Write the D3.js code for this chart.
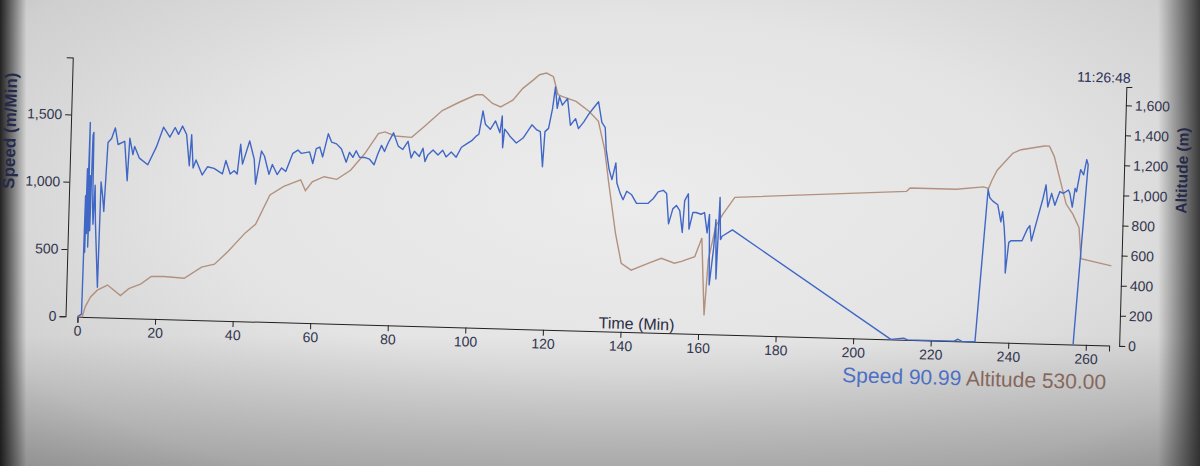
<!DOCTYPE html>
<html lang="en">
<head>
  <meta charset="UTF-8">
  <title>Speed and Altitude</title>
  <style>
    html, body {
      margin: 0;
      padding: 0;
      width: 1200px;
      height: 466px;
      overflow: hidden;
    }
    body {
      background:
        linear-gradient(to right, rgba(15,15,15,0.9) 0%, rgba(0,0,0,0) 2.2%, rgba(0,0,0,0) 96.5%, rgba(30,30,30,0.85) 100%),
        linear-gradient(to bottom, rgba(0,0,0,0) 72%, rgba(70,70,70,0.3) 100%),
        radial-gradient(ellipse 78% 85% at 52% 42%, #ececec 0%, #e4e4e4 45%, #cfcfcf 78%, #a8a8a8 100%);
      font-family: "Liberation Sans", Arial, sans-serif;
    }
    .axis path, .axis line { stroke: #222; }
    .axis text { fill: #33364f; font-size: 14px; font-family: "Liberation Sans", Arial, sans-serif; }
  </style>
</head>
<body>
  <svg id="chart" width="1200" height="466"></svg>

  <script src="https://d3js.org/d3.v7.min.js"></script>
  <script>
    // tick labels
    const timeTicks = [0, 20, 40, 60, 80, 100, 120, 140, 160, 180, 200, 220, 240, 260];
    const speedTicks = [0, 500, 1000, 1500];
    const altTicks = [0, 200, 400, 600, 800, 1000, 1200, 1400, 1600];

    // speed (m/min) against time (min)
    const speedTime = [0, 1.0, 1.2, 1.35, 1.5, 1.7, 1.9, 2.1, 2.3, 2.5, 2.7, 2.9, 3.1, 3.3, 3.6, 3.9, 4.1, 4.5, 4.9, 5.1,
      5.6, 6.0, 6.6, 7.5, 8.4, 9.2, 10.9, 11.8, 12.2, 13.1, 13.5, 14.8, 17.0, 19.1, 20.8, 22.5, 23.8, 24.7, 25.7, 26.8,
      27.7, 28.1, 28.7, 29.4, 31.1, 32.4, 34.1, 36.3, 37.1, 38.3, 39.3, 40.1, 40.8, 41.4, 43.1, 44.4, 44.9, 46.2, 47.0, 48.3,
      49.1, 50.4, 51.5, 52.6, 54.3, 55.6, 56.5, 58.6, 59.5, 60.3, 61.2, 62.0, 63.3, 64.2, 65.5, 66.8, 68.1, 68.9, 69.8, 70.6,
      71.5, 72.8, 74.1, 75.3, 76.2, 77.1, 77.9, 78.8, 80.1, 81.4, 82.6, 83.9, 84.8, 85.6, 86.9, 87.8, 88.4, 89.1, 90.4, 91.7,
      92.9, 93.8, 95.1, 96.4, 97.7, 99.0, 100.3, 101.5, 102.1, 103.0, 103.7, 105.0, 106.3, 107.5, 108.0, 108.3, 108.7, 109.5, 110.1, 111.8,
      113.5, 115.7, 117.0, 117.9, 118.7, 119.1, 120.0, 120.9, 121.5, 122.1, 122.6, 123.4, 124.7, 125.6, 126.9, 127.7, 129.0, 130.3, 131.6, 132.7,
      133.7, 134.6, 135.0, 135.9, 136.7, 137.6, 138.0, 138.9, 139.7, 140.6, 141.9, 143.2, 146.2, 147.5, 148.7, 150.0, 150.9, 151.6, 152.6, 153.5,
      154.4, 155.2, 155.6, 156.5, 156.9, 157.8, 158.6, 159.9, 160.8, 161.6, 162.1, 162.5, 163.4, 163.8, 164.2, 164.7, 165.1, 165.5, 168.1, 209.7,
      213.0, 214.0, 226.0, 227.0, 228.0, 231.4, 233.7, 234.2, 235.0, 236.3, 237.2, 237.6, 238.1, 238.5, 238.7, 239.4, 240.0, 242.8, 244.1, 244.7,
      245.2, 246.6, 247.9, 248.6, 249.2, 250.1, 251.0, 252.2, 253.1, 254.4, 254.8, 255.5, 256.1, 256.5, 257.4, 258.2, 258.9, 259.3, 256.7];
    const speedValues = [0, 20, 900, 480, 1100, 620, 1445, 520, 1050, 640, 1350, 1372, 820, 690, 980, 720, 617, 420, 222, 1005,
      900, 786, 1300, 1330, 1410, 1287, 1312, 1020, 1337, 1215, 1276, 1190, 1143, 1277, 1425, 1352, 1425, 1375, 1437, 1375,
      1144, 1375, 1128, 1188, 1078, 1140, 1130, 1090, 1190, 1091, 1116, 1092, 1314, 1167, 1340, 1205, 1021, 1268, 1232, 1097,
      1171, 1097, 1147, 1122, 1258, 1283, 1259, 1272, 1186, 1297, 1310, 1237, 1410, 1349, 1337, 1300, 1203, 1277, 1240, 1290,
      1242, 1242, 1230, 1190, 1270, 1335, 1290, 1356, 1431, 1333, 1309, 1371, 1248, 1298, 1261, 1323, 1224, 1274, 1311, 1275,
      1312, 1263, 1300, 1263, 1338, 1364, 1389, 1426, 1438, 1612, 1514, 1477, 1540, 1454, 1578, 1343, 1480, 1454, 1430, 1381,
      1419, 1519, 1482, 1470, 1210, 1471, 1496, 1645, 1805, 1646, 1733, 1671, 1722, 1524, 1574, 1500, 1550, 1612, 1662, 1704,
      1551, 1514, 1352, 1203, 1129, 1254, 1105, 1030, 982, 1045, 1020, 958, 960, 997, 1047, 1060, 1036, 812, 924, 950,
      913, 751, 988, 1039, 777, 902, 902, 890, 903, 753, 891, 367, 642, 853, 412, 1018, 706, 731, 780, 0,
      12, 0, 0, 15, 0, 0, 1135, 1072, 1048, 1022, 896, 972, 858, 718, 517, 745, 758, 760, 849, 874,
      760, 925, 1078, 1180, 1016, 1118, 1030, 1133, 1120, 1146, 1120, 1020, 1160, 1135, 1300, 1262, 1376, 1338, 0];

    // altitude (m) against time (min)
    const altTime = [0, 1.2, 1.9, 3.2, 4.9, 7.5, 10.9, 13.0, 16.1, 18.7, 22.0, 27.2, 31.6, 34.9, 38.4, 42.6, 45.2, 48.7, 52.2, 56.5,
      57.8, 59.5, 62.5, 65.8, 69.3, 72.8, 76.2, 77.9, 80.5, 84.8, 88.2, 92.5, 96.8, 101.1, 102.8, 105.4, 107.5, 110.6, 113.1, 115.7,
      117.3, 119.1, 120.9, 122.2, 123.4, 126.9, 130.3, 132.8, 134.6, 135.9, 138.0, 139.7, 142.3, 146.6, 150.0, 153.4, 155.2, 158.6, 160.3, 161.4,
      162.1, 163.8, 165.5, 168.5, 212.7, 213.6, 225.5, 232.5, 233.8, 234.6, 235.9, 239.8, 241.9, 247.9, 249.2, 250.5, 252.2, 253.9, 255.7, 257.4,
      258.1, 266.0];
    const altValues = [0, 0, 67, 134, 180, 216, 148, 196, 230, 281, 283, 275, 352, 374, 464, 588, 647, 845, 904, 951,
      880, 940, 976, 961, 1024, 1136, 1272, 1285, 1260, 1254, 1334, 1438, 1496, 1549, 1550, 1494, 1473, 1520, 1600, 1657,
      1694, 1706, 1683, 1564, 1553, 1523, 1460, 1395, 1210, 987, 654, 455, 412, 460, 496, 466, 480, 514, 639, 125,
      494, 720, 800, 915, 987, 1010, 1010, 1031, 1022, 1075, 1144, 1260, 1285, 1314, 1314, 1247, 1090, 932, 866, 777,
      572, 530];

    const clock = "11:26:48";
    const lastSpeed = 90.99;
    const lastAlt = 530.00;

    const speedData = d3.zip(speedTime, speedValues);
    const altData = d3.zip(altTime, altValues);

    // plot frame
    const plotLeft = 81, plotRight = 1113, plotTop = 72, plotBottom = 331;
    const leftAxisX = 69, rightAxisX = 1123;

    const x = d3.scaleLinear().domain([0, 266]).range([plotLeft, plotRight]);
    const ySpeed = d3.scaleLinear().domain([0, 1924]).range([plotBottom, plotTop]);
    const yAlt = d3.scaleLinear().domain([0, 1722]).range([plotBottom, plotTop]);

    const svg = d3.select("#chart");
    // the screen was photographed slightly tilted
    const g = svg.append("g").attr("transform", "rotate(1.6, 592, 200)");

    // axes
    g.append("g")
      .attr("class", "axis")
      .attr("transform", `translate(0,${plotBottom})`)
      .call(d3.axisBottom(x).tickValues(timeTicks).tickFormat(d3.format("d")));

    g.append("g")
      .attr("class", "axis")
      .attr("transform", `translate(${leftAxisX},0)`)
      .call(d3.axisLeft(ySpeed).tickValues(speedTicks).tickFormat(d3.format(",")));

    g.append("g")
      .attr("class", "axis")
      .attr("transform", `translate(${rightAxisX},0)`)
      .call(d3.axisRight(yAlt).tickValues(altTicks).tickFormat(d3.format(",")));

    // lines
    const altLine = d3.line().x(d => x(d[0])).y(d => yAlt(d[1]));
    const speedLine = d3.line().x(d => x(d[0])).y(d => ySpeed(d[1]));

    g.append("path")
      .datum(altData)
      .attr("d", altLine)
      .attr("fill", "none")
      .attr("stroke", "#b3917f")
      .attr("stroke-width", 1.4);

    g.append("path")
      .datum(speedData)
      .attr("d", speedLine)
      .attr("fill", "none")
      .attr("stroke", "#4067c6")
      .attr("stroke-width", 1.4)
      .attr("stroke-linejoin", "round");

    // titles
    g.append("text")
      .attr("transform", "translate(8,147) rotate(-90)")
      .attr("text-anchor", "middle")
      .attr("dy", "0.35em")
      .style("font-size", "17px")
      .style("font-weight", "bold")
      .style("fill", "#262a4a")
      .text("Speed (m/Min)");

    g.append("text")
      .attr("transform", "translate(1181,154) rotate(-90)")
      .attr("text-anchor", "middle")
      .attr("dy", "0.35em")
      .style("font-size", "15.5px")
      .style("font-weight", "bold")
      .style("fill", "#262a4a")
      .text("Altitude (m)");

    g.append("text")
      .attr("x", 640)
      .attr("y", 328)
      .attr("text-anchor", "middle")
      .style("font-size", "16px")
      .style("fill", "#2b2d44")
      .text("Time (Min)");

    g.append("text")
      .attr("x", 1127)
      .attr("y", 68)
      .attr("text-anchor", "end")
      .style("font-size", "14px")
      .style("fill", "#2c3058")
      .text(clock);

    const readout = g.append("text")
      .attr("x", 1111)
      .attr("y", 375)
      .attr("text-anchor", "end")
      .style("font-size", "21px");
    readout.append("tspan").style("fill", "#4d6fc4").text("Speed " + lastSpeed.toFixed(2));
    readout.append("tspan").style("fill", "#86675c").text(" Altitude " + lastAlt.toFixed(2));
  </script>
</body>
</html>
